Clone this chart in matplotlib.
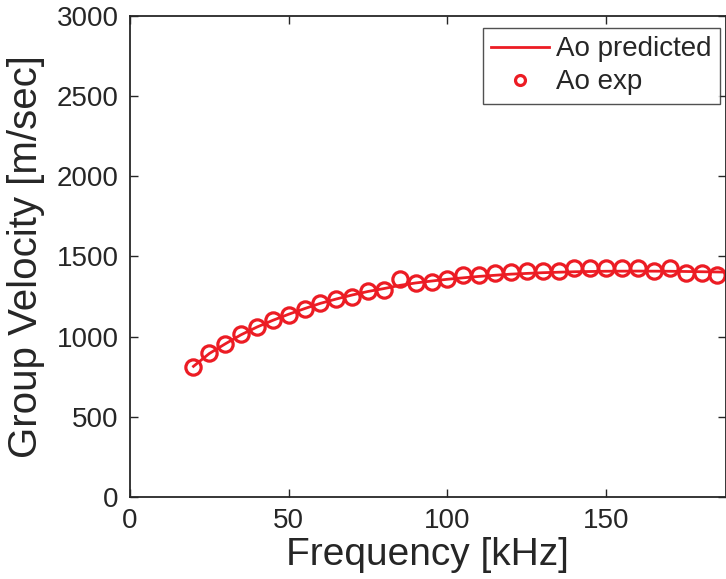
import numpy as np
import matplotlib
matplotlib.use("Agg")
import matplotlib.pyplot as plt

plt.rcParams['font.family'] = ['Liberation Sans', 'DejaVu Sans']

freq_exp = [20, 25, 30, 35, 40, 45, 50, 55, 60, 65, 70, 75, 80, 85, 90, 95,
            100, 105, 110, 115, 120, 125, 130, 135, 140, 145, 150, 155, 160,
            165, 170, 175, 180, 185]
vel_exp = [813, 900, 954, 1015, 1062, 1104, 1135, 1171, 1212, 1232, 1250,
           1287, 1291, 1358, 1337, 1343, 1358, 1385, 1385, 1395, 1405, 1410,
           1412, 1412, 1427, 1427, 1427, 1427, 1427, 1412, 1427, 1399, 1399,
           1385]

# predicted curve
freq_pred = [20, 25, 30, 35, 40, 45, 50, 55, 60, 65, 70, 75, 80, 85, 90, 95,
             100, 110, 120, 130, 140, 150, 160, 170, 180, 190]
vel_pred = [815, 895, 955, 1012, 1060, 1102, 1140, 1175, 1208, 1235, 1260,
            1282, 1300, 1320, 1335, 1347, 1358, 1376, 1390, 1399, 1405, 1408,
            1409, 1408, 1405, 1402]

red = '#ec1c24'
ink = '#262626'

fig = plt.figure(figsize=(7.26, 5.79), dpi=100)
ax = fig.add_axes([0.179, 0.1416, 0.8205, 0.8308])

ax.plot(freq_pred, vel_pred, '-', color=red, lw=2.0, label='Ao predicted')
ax.plot(freq_exp, vel_exp, 'o', mfc='none', mec=red, mew=2.3, ms=11,
        label='Ao exp')

ax.set_xlim(0, 187.6)
ax.set_ylim(0, 3000)
ax.set_xticks([0, 50, 100, 150])
ax.set_yticks(np.arange(0, 3001, 500))

ax.tick_params(direction='in', length=6, width=1, colors=ink, labelsize=20,
               top=True, right=True, pad=8)
for s in ax.spines.values():
    s.set_color(ink)
    s.set_linewidth(1.3)

ax.set_xlabel('Frequency [kHz]', fontsize=28, color=ink, labelpad=2)
ax.set_ylabel('Group Velocity [m/sec]', fontsize=29, color=ink)
ax.yaxis.set_label_coords(-0.143, 0.5)

# legend box: right edge ~720px, top ~28px
leg = ax.legend(loc='upper right', bbox_to_anchor=(720 / 726, 1 - 28 / 579),
                bbox_transform=fig.transFigure, borderaxespad=0,
                fontsize=20, frameon=True, fancybox=False,
                handlelength=2.1, labelspacing=0.25, borderpad=0.3,
                handletextpad=0.25, markerscale=0.65)
leg.get_frame().set_edgecolor(ink)
leg.get_frame().set_linewidth(1.0)
for t in leg.get_texts():
    t.set_color(ink)

fig.savefig('out.png', dpi=100)
